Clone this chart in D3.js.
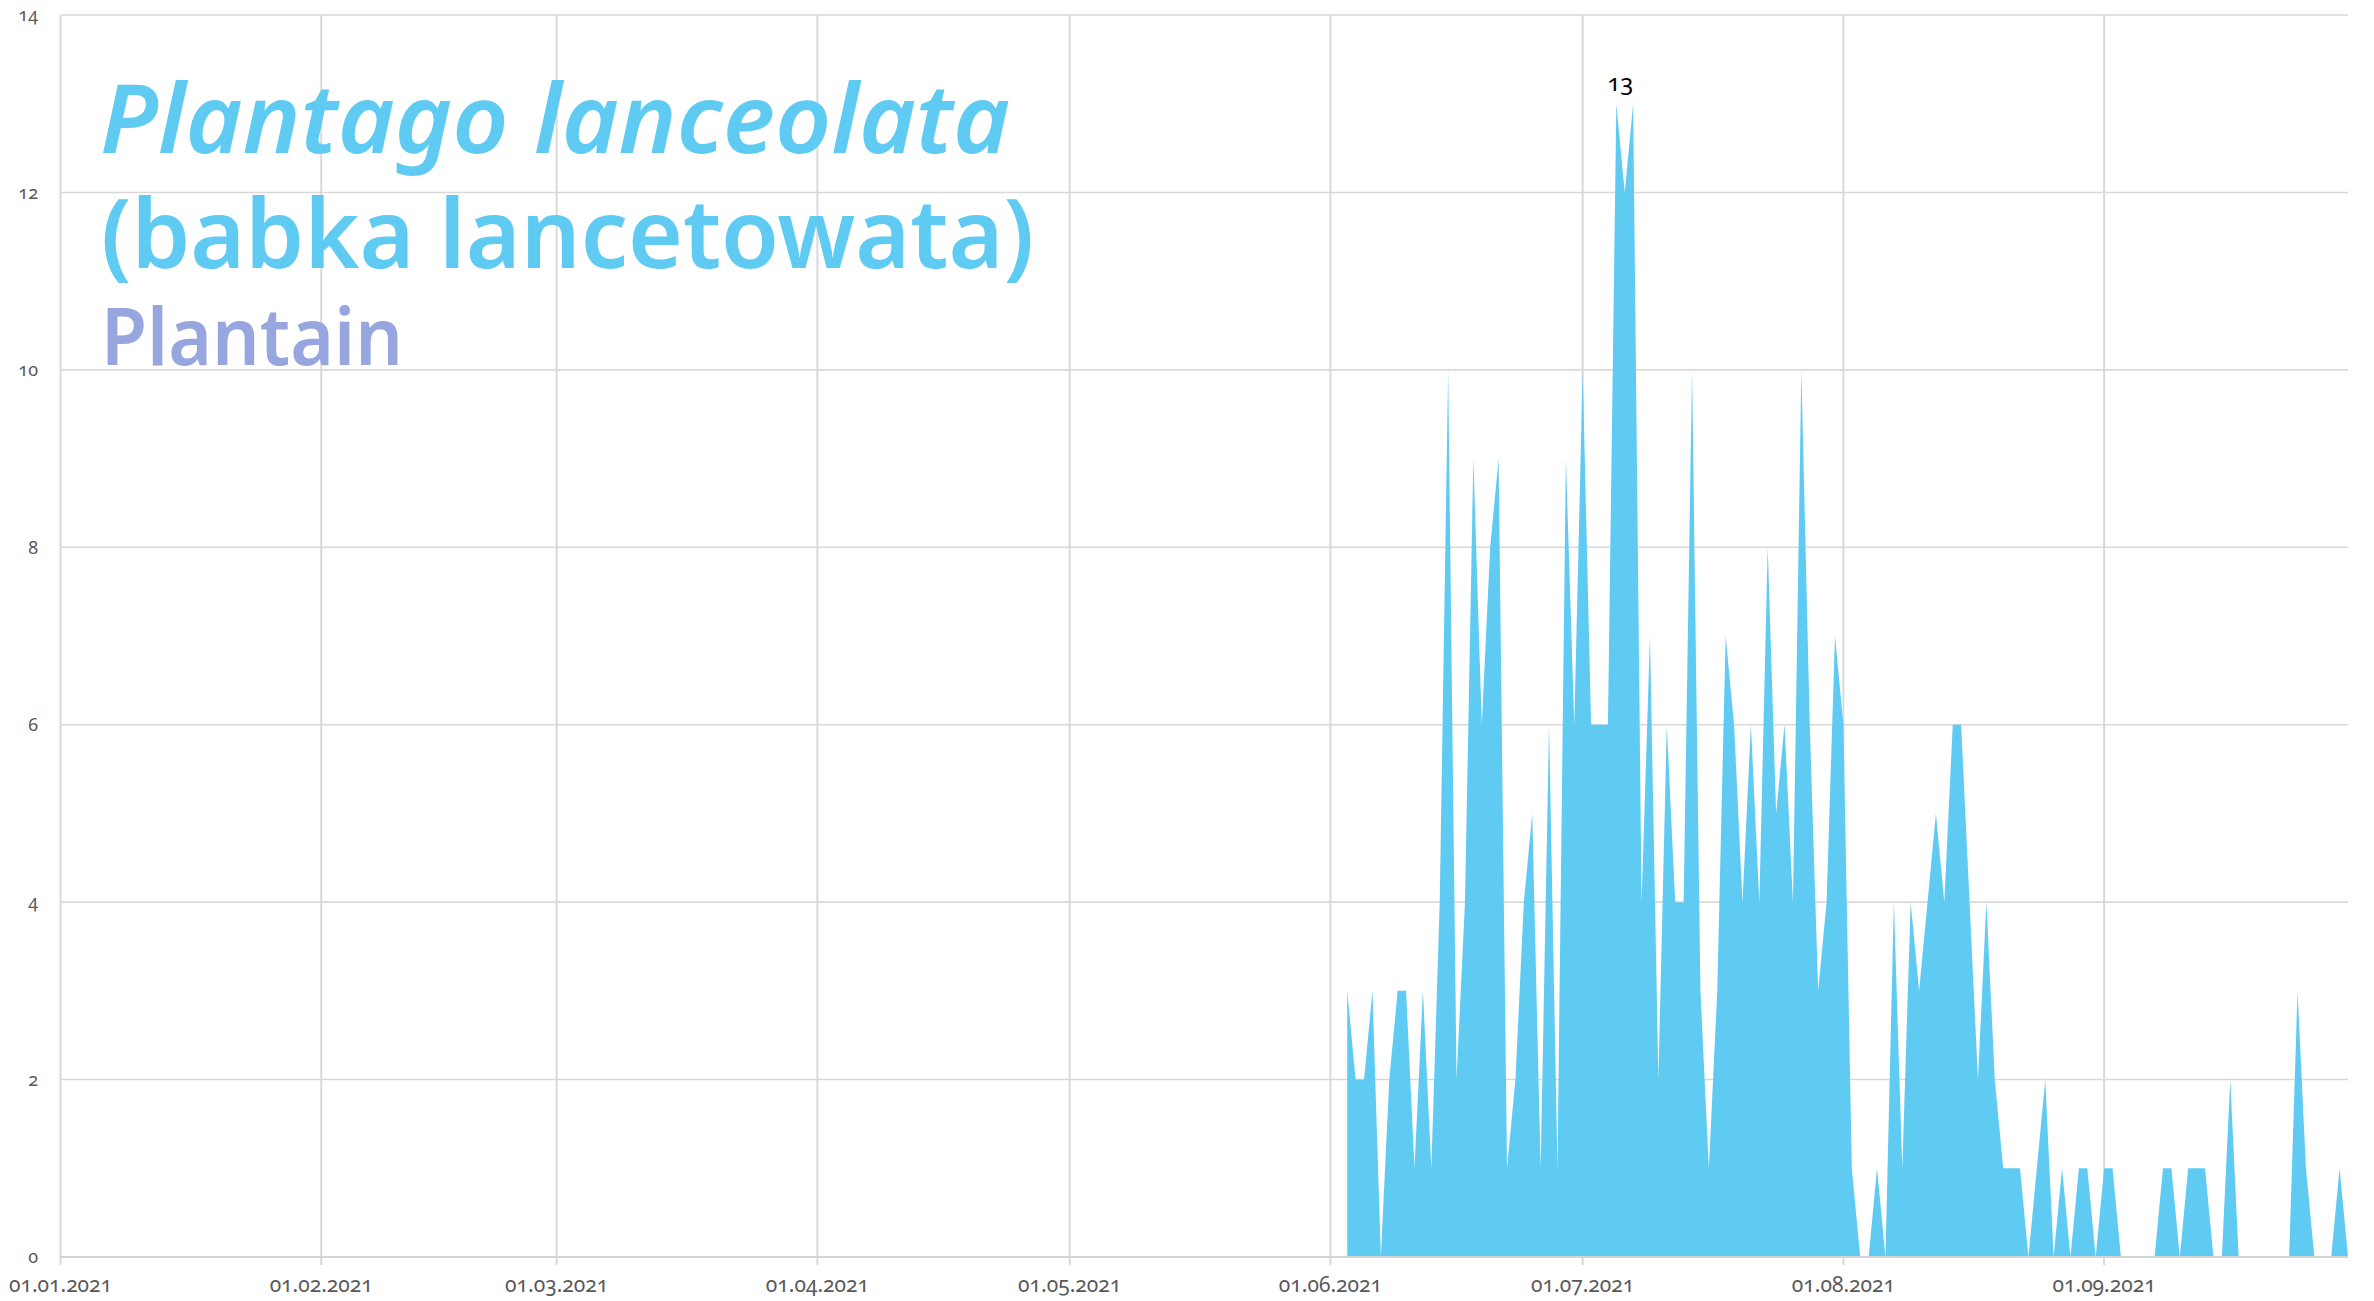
<!DOCTYPE html>
<html>
<head>
<meta charset="utf-8">
<script src="https://cdn.jsdelivr.net/npm/d3@7"></script>
<style>
  html, body { margin: 0; padding: 0; background: #ffffff; }
  svg { display: block; }
  .tick-label { font-family: "Noto Sans", "Open Sans", sans-serif; fill: #595959; font-variant-numeric: oldstyle-nums; }
</style>
</head>
<body>
<svg id="chart" width="2374" height="1301"></svg>
<script>
// ---------------- data ----------------
const seriesStart = "2021-06-03";
const pollenValues = [
  3, 2, 2, 3, 0, 2, 3, 3, 1, 3, 1, 4, 10, 2, 4, 9, 6, 8, 9, 1, 2, 4, 5, 1, 6, 1, 9, 6,   // 03.06 - 30.06
  10, 6, 6, 6, 13, 12, 13, 4, 7, 2, 6, 4, 4, 10, 3, 1, 3, 7, 6, 4, 6, 4, 8, 5, 6, 4, 10, 6, 3, 4, 7, // July
  6, 1, 0, 0, 1, 0, 4, 1, 4, 3, 4, 5, 4, 6, 6, 4, 2, 4, 2, 1, 1, 1, 0, 1, 2, 0, 1, 0, 1, 1, 0,      // August
  1, 1, 0, 0, 0, 0, 0, 1, 1, 0, 1, 1, 1, 0, 0, 2, 0, 0, 0, 0, 0, 0, 0, 3, 1, 0, 0, 0, 1, 0          // September
];
const axisStart = "2021-01-01";
const axisEnd = "2021-09-30";
const yTickValues = [0, 2, 4, 6, 8, 10, 12, 14];
const xTickDates = ["2021-01-01", "2021-02-01", "2021-03-01", "2021-04-01", "2021-05-01", "2021-06-01", "2021-07-01", "2021-08-01", "2021-09-01"];
const xTickLabels = ["01.01.2021", "01.02.2021", "01.03.2021", "01.04.2021", "01.05.2021", "01.06.2021", "01.07.2021", "01.08.2021", "01.09.2021"];
const titleLatin = "Plantago lanceolata";
const titlePolish = "(babka lancetowata)";
const titleEnglish = "Plantain";

// ---------------- layout ----------------
const margin = { left: 60.5, right: 2348, top: 15, bottom: 1257 };
const svg = d3.select("#chart");
const parse = d3.utcParse("%Y-%m-%d");

const start = parse(seriesStart);
const data = pollenValues.map((v, i) => ({ date: d3.utcDay.offset(start, i), v }));

const x = d3.scaleUtc().domain([parse(axisStart), parse(axisEnd)]).range([margin.left, margin.right]);
const y = d3.scaleLinear().domain([0, 14]).range([margin.bottom, margin.top]);

// horizontal gridlines
svg.append("g").selectAll("line").data(yTickValues.filter(d => d > 0)).join("line")
  .attr("x1", margin.left).attr("x2", margin.right)
  .attr("y1", d => y(d)).attr("y2", d => y(d))
  .attr("stroke", "#d9d9d9").attr("stroke-width", 1.6);

// vertical gridlines at month starts (with small tick below the axis)
svg.append("g").selectAll("line").data(xTickDates).join("line")
  .attr("x1", d => x(parse(d))).attr("x2", d => x(parse(d)))
  .attr("y1", margin.top).attr("y2", margin.bottom + 8)
  .attr("stroke", "#d9d9d9").attr("stroke-width", 2);

// area
const area = d3.area()
  .x(d => x(d.date))
  .y0(y(0))
  .y1(d => y(d.v))
  .curve(d3.curveLinear);
svg.append("path").datum(data)
  .attr("d", area)
  .attr("fill", "#60cbf2");

// baseline axis
svg.append("line")
  .attr("x1", margin.left).attr("x2", margin.right)
  .attr("y1", y(0)).attr("y2", y(0))
  .attr("stroke", "#d4d4d4").attr("stroke-width", 2.2);

// y tick labels
svg.append("g").selectAll("text").data(yTickValues).join("text")
  .attr("class", "tick-label")
  .attr("x", 38).attr("y", d => y(d))
  .attr("dy", "0.35em")
  .attr("text-anchor", "end")
  .attr("font-size", 18)
  .text(d => d);

// x tick labels
svg.append("g").selectAll("text").data(xTickDates).join("text")
  .attr("class", "tick-label")
  .attr("x", d => x(parse(d))).attr("y", 1292)
  .attr("text-anchor", "middle")
  .attr("font-size", 21)
  .text((d, i) => xTickLabels[i]);

// max label
const maxV = d3.max(data, d => d.v);
const maxPt = data.find(d => d.v === maxV);
svg.append("text")
  .attr("class", "tick-label")
  .style("fill", "#000")
  .attr("x", x(maxPt.date) + 4).attr("y", y(maxV) - 13)
  .attr("text-anchor", "middle")
  .attr("font-size", 24)
  .text(maxV);

// titles
function fitText(sel, width) {
  const w = sel.node().getComputedTextLength();
  if (w > 0) sel.attr("textLength", width).attr("lengthAdjust", "spacingAndGlyphs");
}
const t1 = svg.append("text")
  .attr("x", 100).attr("y", 153)
  .attr("font-family", "Noto Sans, Open Sans, sans-serif")
  .attr("font-style", "italic").attr("font-weight", 600)
  .attr("font-size", 96).attr("fill", "#60cbf2")
  .text(titleLatin);
fitText(t1, 910);
const t2 = svg.append("text")
  .attr("x", 101).attr("y", 268)
  .attr("font-family", "Noto Sans, Open Sans, sans-serif")
  .attr("font-weight", 600)
  .attr("font-size", 96).attr("fill", "#60cbf2")
  .text(titlePolish);
fitText(t2, 933);
const t3 = svg.append("text")
  .attr("x", 101).attr("y", 365)
  .attr("font-family", "Noto Sans, Open Sans, sans-serif")
  .attr("font-weight", 600)
  .attr("font-size", 80).attr("fill", "#97a6df")
  .text(titleEnglish);
fitText(t3, 302);
</script>
</body>
</html>
